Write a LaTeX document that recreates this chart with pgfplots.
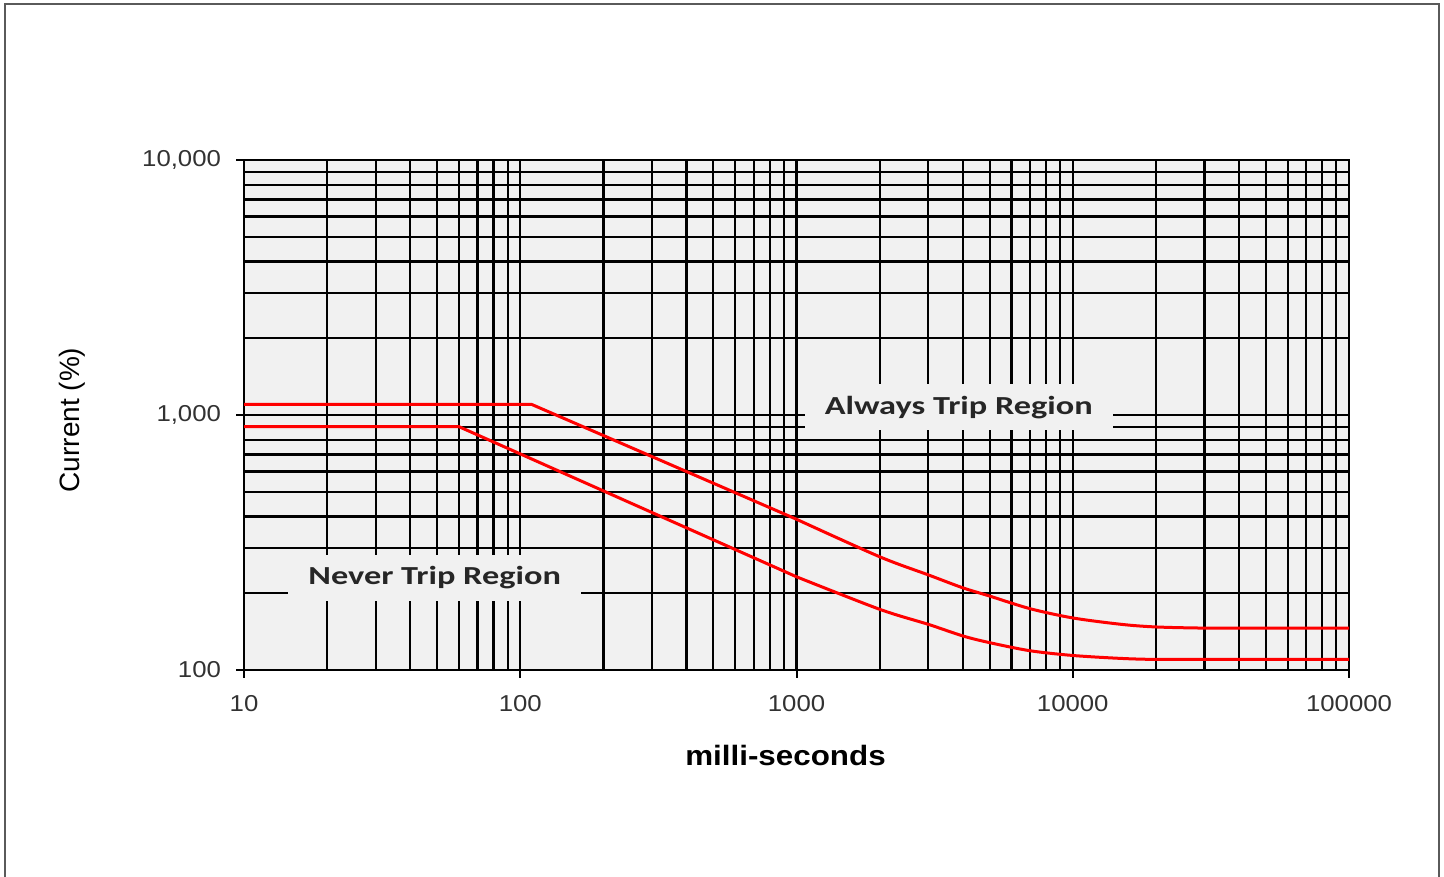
\documentclass[border=0pt]{standalone}
\usepackage{pgfplots}
\pgfplotsset{compat=1.18}
\usepackage{fontspec}
\setmainfont{Liberation Sans}
\newfontfamily\tickfont{Liberation Sans}[FakeStretch=1.12]
\newfontfamily\labfont{Liberation Sans}[FakeStretch=1.12]
\newfontfamily\regfont{Carlito}[FakeStretch=1.32]
\definecolor{bgg}{RGB}{241,241,241}
\definecolor{tickgray}{RGB}{50,50,50}
\definecolor{framegray}{RGB}{90,90,90}
\begin{document}
\begin{tikzpicture}
\path[use as bounding box] (0,0) rectangle (722pt,438.5pt);
\draw[framegray, line width=1.2pt] (2.5pt,-1pt) -- (2.5pt,436.5pt) -- (719.5pt,436.5pt) -- (719.5pt,-1pt);
\begin{axis}[
  at={(122pt,103.5pt)}, anchor=south west,
  scale only axis, width=552.5pt, height=255pt,
  xmode=log, ymode=log,
  xmin=10, xmax=100000, ymin=100, ymax=10000,
  axis background/.style={fill=bgg},
  grid=both,
  major grid style={black, line width=1.1pt},
  minor grid style={black, line width=1.1pt},
  axis line style={black, line width=1.1pt},
  xtick={10,100,1000,10000,100000},
  xticklabels={10,100,1000,10000,100000},
  ytick={100,1000,10000},
  yticklabels={100,{1,000},{10,000}},
  tick align=outside, major tick length=4pt, minor tick length=0pt,
  tick style={black, line width=1pt},
  xtick pos=bottom, ytick pos=left,
  tick label style={font=\tickfont\fontsize{11.5}{13}\selectfont, text=tickgray},
  xticklabel style={yshift=-5pt},
  yticklabel style={xshift=-4pt},
  xlabel={milli-seconds},
  ylabel={Current (\%)},
  xlabel style={at={(axis description cs:0.49,-0.167)}, anchor=center, font=\labfont\bfseries\fontsize{14}{16}\selectfont},
  ylabel style={at={(axis description cs:-0.155,0.49)}, anchor=center, font=\fontsize{14}{16}\selectfont},
  clip=false,
]
% upper curve: straight part, then smooth tail
\addplot[red, line width=1.5pt] coordinates {
(10,1100) (110,1100) (1000,390)
};
\addplot[red, line width=1.5pt, smooth, tension=0.5] coordinates {
(1000,390) (2000,278) (3000,236) (4000,210) (5000,195) (7000,174) (10000,160) (15000,151) (20000,147.5) (30000,146) (50000,146) (100000,146)
};
% lower curve
\addplot[red, line width=1.5pt] coordinates {
(10,900) (60,900) (1000,232)
};
\addplot[red, line width=1.5pt, smooth, tension=0.5] coordinates {
(1000,232) (2000,173) (3000,151) (4000,136) (5000,128) (7000,119) (10000,114) (15000,111) (20000,110) (30000,110) (50000,110) (100000,110)
};
\node[fill=bgg, inner xsep=10pt, inner ysep=6pt, font=\regfont\bfseries\fontsize{13}{15}\selectfont, text=black!85] at (axis cs:49,229.5) {Never Trip Region};
\node[fill=bgg, inner xsep=10pt, inner ysep=6pt, font=\regfont\bfseries\fontsize{13}{15}\selectfont, text=black!85] at (axis cs:3866,1074) {Always Trip Region};
\end{axis}
\end{tikzpicture}
\end{document}
